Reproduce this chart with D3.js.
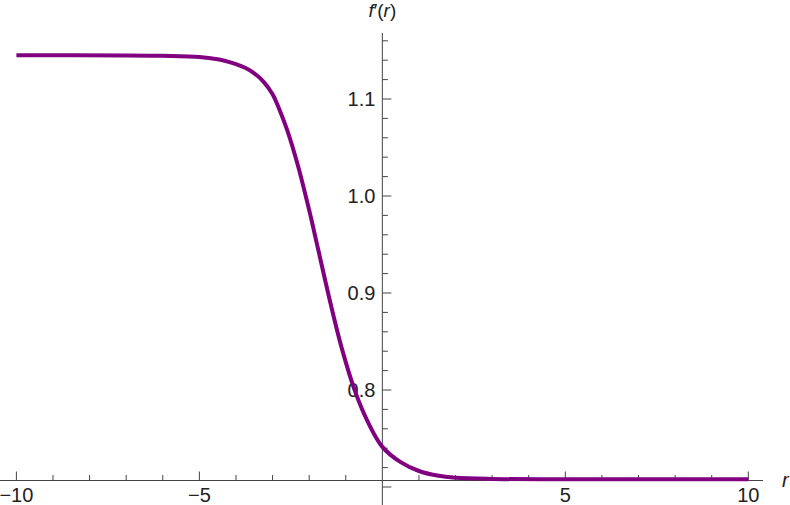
<!DOCTYPE html>
<html>
<head>
  <meta charset='utf-8'>
  <script src="https://d3js.org/d3.v7.min.js"></script>
  <style>
    body { margin: 0; background: #fff; }
    text { font-family: 'Liberation Sans', Arial, sans-serif; fill: #222; }
  </style>
</head>
<body>
  <script type='text/javascript'>
    // Values
    var rValues = [-10, -7, -6, -5, -4.5, -4.25, -4, -3.75, -3.5, -3.25, -3, -2.8, -2.6, -2.3, -2.0, -1.75, -1.42, -1.1, -0.74, -0.4, 0, 0.5, 1.0, 1.5, 2.0, 3.0, 5, 10];
    var fValues = [1.1450, 1.1449, 1.1445, 1.1434, 1.1410, 1.1388, 1.1360, 1.1322, 1.1265, 1.1180, 1.1050, 1.0880, 1.068, 1.0305, 0.9855, 0.9443, 0.8899, 0.8419, 0.798, 0.7674, 0.7414, 0.7256, 0.7165, 0.7118, 0.7095, 0.7083, 0.7080, 0.7080];

    var xMajor = [-10, -5, 5, 10];
    var xMinor = [-9, -8, -7, -6, -4, -3, -2, -1, 1, 2, 3, 4, 6, 7, 8, 9];
    var yMajor = [0.7, 0.8, 0.9, 1.0, 1.1];
    var yLabels = ['', '0.8', '0.9', '1.0', '1.1'];
    var yMinor = [0.72, 0.74, 0.76, 0.78, 0.82, 0.84, 0.86, 0.88, 0.92, 0.94, 0.96, 0.98, 1.02, 1.04, 1.06, 1.08, 1.12, 1.14, 1.16];
    var axisOrigin = 0.7072;

    var width = 790, height = 505;

    var svg = d3.select('body')
      .append('svg')
      .attr('width', width)
      .attr('height', height);

    var x = d3.scaleLinear().domain([-10, 10]).range([16.4, 748.3]);
    var y = d3.scaleLinear().domain([0.7, 1.1]).range([487, 99]);

    var x0 = x(0), y0 = Math.round(y(axisOrigin)) + 0.5;

    // Axes lines
    svg.append('line')
      .attr('x1', 0).attr('x2', 763)
      .attr('y1', y0).attr('y2', y0)
      .attr('stroke', '#444').attr('stroke-width', 1);
    svg.append('line')
      .attr('x1', x0).attr('x2', x0)
      .attr('y1', 33).attr('y2', height)
      .attr('stroke', '#444').attr('stroke-width', 1);

    // x ticks point up
    svg.selectAll('.xmaj').data(xMajor).enter().append('line')
      .attr('x1', function(d) { return x(d); }).attr('x2', function(d) { return x(d); })
      .attr('y1', y0).attr('y2', y0 - 9)
      .attr('stroke', '#444');
    svg.selectAll('.xmin').data(xMinor).enter().append('line')
      .attr('x1', function(d) { return x(d); }).attr('x2', function(d) { return x(d); })
      .attr('y1', y0).attr('y2', y0 - 5.5)
      .attr('stroke', '#444');
    svg.selectAll('.xlab').data(xMajor).enter().append('text')
      .attr('x', function(d) { return x(d); })
      .attr('y', 502)
      .attr('text-anchor', 'middle')
      .style('font-size', '20px')
      .text(function(d) { return d < 0 ? '\u2212' + Math.abs(d) : d; });

    // y ticks point right
    svg.selectAll('.ymaj').data(yMajor).enter().append('line')
      .attr('x1', x0).attr('x2', x0 + 9)
      .attr('y1', function(d) { return y(d); }).attr('y2', function(d) { return y(d); })
      .attr('stroke', '#444');
    svg.selectAll('.ymin').data(yMinor).enter().append('line')
      .attr('x1', x0).attr('x2', x0 + 5.5)
      .attr('y1', function(d) { return y(d); }).attr('y2', function(d) { return y(d); })
      .attr('stroke', '#444');
    svg.selectAll('.ylab').data(yMajor).enter().append('text')
      .attr('x', x0 - 7)
      .attr('y', function(d) { return y(d); })
      .attr('dy', '0.35em')
      .attr('text-anchor', 'end')
      .style('font-size', '20px')
      .text(function(d, i) { return yLabels[i]; });

    // Axis labels
    svg.append('text')
      .attr('x', 782).attr('y', 487)
      .style('font-size', '20px').style('font-style', 'italic')
      .text('r');
    var fl = svg.append('text')
      .attr('x', x0).attr('y', 17)
      .attr('text-anchor', 'middle')
      .style('font-size', '19px');
    fl.append('tspan').style('font-style', 'italic').text('f');
    fl.append('tspan').text('\u2032(');
    fl.append('tspan').style('font-style', 'italic').text('r');
    fl.append('tspan').text(')');

    // Curve
    var pts = rValues.map(function(r, i) { return [r, fValues[i]]; });
    var line = d3.line()
      .x(function(d) { return x(d[0]); })
      .y(function(d) { return y(d[1]); })
      .curve(d3.curveCatmullRom.alpha(0.5));
    svg.append('path')
      .datum(pts)
      .attr('d', line)
      .attr('fill', 'none')
      .attr('stroke', '#800080')
      .attr('stroke-width', 4);
  </script>
</body>
</html>
